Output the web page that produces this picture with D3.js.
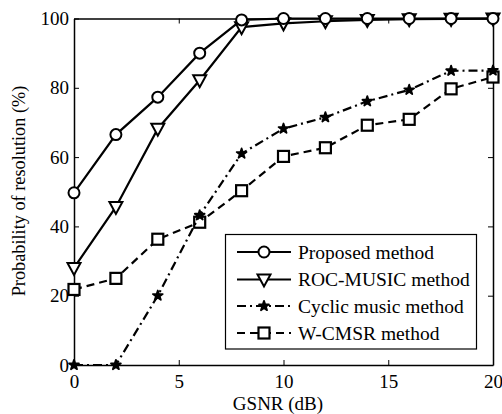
<!DOCTYPE html>
<html lang="en">
<head>
<meta charset="UTF-8">
<title>Probability of resolution</title>
<style>
  body { margin: 0; background: #fff; }
  text { font-family: "Liberation Serif", "Times New Roman", serif; }
</style>
</head>
<body>
<div class="chart"></div>
<script src="https://d3js.org/d3.v7.min.js"></script>
<script>
var gsnr = [0, 2, 4, 6, 8, 10, 12, 14, 16, 18, 20]
var proposed = [49.7, 66.5, 77.3, 90, 99.6, 100, 100, 100, 100, 100, 100]
var rocMusic = [28, 45.6, 68.2, 82.2, 97.5, 98.6, 99.2, 99.6, 99.8, 99.9, 100]
var cyclic = [0, 0, 20, 43.2, 61, 68.2, 71.5, 76.1, 79.4, 84.9, 85]
var wcmsr = [21.8, 25, 36.3, 41.2, 50.3, 60.2, 62.7, 69.2, 70.9, 79.7, 83.1]
var seriesNames = ["Proposed method", "ROC-MUSIC method", "Cyclic music method", "W-CMSR method"]
var xTicks = [0, 5, 10, 15, 20]
var yTicks = [0, 20, 40, 60, 80, 100]

var W = 502, H = 414
// note: "top" is a reserved window prop, so use plot* names
var plotL = 74, plotR = 493, plotT = 18.5, plotB = 365

var svg = d3.select(".chart").append("svg").attr("width", W).attr("height", H)

var x = d3.scaleLinear().domain([0, 20]).range([plotL, plotR])
var y = d3.scaleLinear().domain([0, 100]).range([plotB, plotT])

// frame + inward ticks (matlab style box)
svg.append("g").attr("transform", "translate(0," + plotB + ")")
  .call(d3.axisBottom(x).tickValues(xTicks).tickSizeInner(-5).tickSizeOuter(0).tickPadding(10))
svg.append("g").attr("transform", "translate(0," + plotT + ")")
  .call(d3.axisTop(x).tickValues(xTicks).tickSizeInner(-5).tickSizeOuter(0).tickFormat(""))
svg.append("g").attr("transform", "translate(" + plotL + ",0)")
  .call(d3.axisLeft(y).tickValues(yTicks).tickSizeInner(-5).tickSizeOuter(0).tickPadding(5))
svg.append("g").attr("transform", "translate(" + plotR + ",0)")
  .call(d3.axisRight(y).tickValues(yTicks).tickSizeInner(-5).tickSizeOuter(0).tickFormat(""))

svg.selectAll(".domain").attr("stroke", "#000").attr("stroke-width", 1.5)
svg.selectAll(".tick line").attr("stroke", "#000").attr("stroke-width", 1)
svg.selectAll(".tick text").attr("font-size", 19).attr("fill", "#000")
  .style("font-family", "'Liberation Serif', serif")

svg.append("text").attr("x", 278).attr("y", 410)
  .attr("text-anchor", "middle").attr("font-size", 19).text("GSNR (dB)")
svg.append("text").attr("transform", "translate(25," + 191 + ") rotate(-90)")
  .attr("text-anchor", "middle").attr("font-size", 18.3).text("Probability of resolution (%)")

var styles = [
  { data: proposed, dash: null, marker: "circle" },
  { data: rocMusic, dash: null, marker: "tri" },
  { data: cyclic, dash: "9,4,2,4", marker: "star" },
  { data: wcmsr, dash: "8,5", marker: "square" }
]

function drawMarker(g, type, cx, cy) {
  if (type === "circle") {
    g.append("circle").attr("cx", cx).attr("cy", cy).attr("r", 5.5)
      .attr("fill", "#fff").attr("stroke", "#000").attr("stroke-width", 2)
  } else if (type === "tri") {
    g.append("path").attr("d", "M" + (cx - 6.5) + "," + (cy - 5) + "L" + (cx + 6.5) + "," + (cy - 5) + "L" + cx + "," + (cy + 7) + "Z")
      .attr("fill", "#fff").attr("stroke", "#000").attr("stroke-width", 2)
  } else if (type === "square") {
    g.append("rect").attr("x", cx - 5.5).attr("y", cy - 5.5).attr("width", 11).attr("height", 11)
      .attr("fill", "#fff").attr("stroke", "#000").attr("stroke-width", 2.2)
  } else {
    g.append("path").attr("d", d3.symbol().type(d3.symbolStar).size(30)())
      .attr("transform", "translate(" + cx + "," + cy + ")")
      .attr("fill", "#000").attr("stroke", "#000").attr("stroke-width", 1.8)
      .attr("stroke-linejoin", "round")
  }
}

var line = d3.line().x(function(d, i) { return x(gsnr[i]) }).y(function(d) { return y(d) })

// draw back to front so proposed sits on top
for (var k = styles.length - 1; k >= 0; k--) {
  var s = styles[k]
  var g = svg.append("g")
  g.append("path").datum(s.data).attr("d", line)
    .attr("fill", "none").attr("stroke", "#000").attr("stroke-width", 2.2)
    .attr("stroke-dasharray", s.dash)
  s.data.forEach(function(v, i) { drawMarker(g, s.marker, x(gsnr[i]), y(v)) })
}

// legend
var lg = svg.append("g")
lg.append("rect").attr("x", 225.5).attr("y", 234.5).attr("width", 251).attr("height", 114.5)
  .attr("fill", "#fff").attr("stroke", "#000").attr("stroke-width", 1.2)
var rowY = [252, 279.5, 306, 333]
styles.forEach(function(s, k) {
  var ly = rowY[k]
  lg.append("line").attr("x1", 237).attr("x2", 291).attr("y1", ly).attr("y2", ly)
    .attr("stroke", "#000").attr("stroke-width", 2.2).attr("stroke-dasharray", s.dash)
  drawMarker(lg, s.marker, 264, ly)
  lg.append("text").attr("x", 298).attr("y", ly + 6.5).attr("font-size", 19.5).text(seriesNames[k])
})
</script>
</body>
</html>
